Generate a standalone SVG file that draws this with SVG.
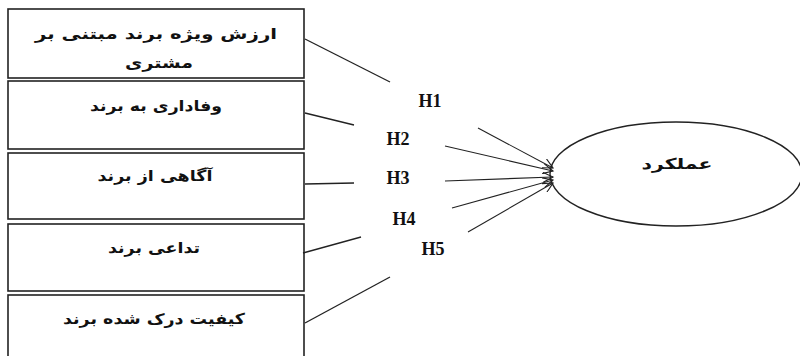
<svg xmlns="http://www.w3.org/2000/svg" width="800" height="356" viewBox="0 0 800 356">
<style>
.box{fill:#fff;stroke:#222;stroke-width:1.6}
.fa{font-family:"DejaVu Sans",sans-serif;font-size:15px;font-weight:bold;fill:#111;text-anchor:middle;direction:rtl}
.h{font-family:"Liberation Serif",serif;font-size:18px;font-weight:bold;fill:#111;text-anchor:middle}
.ln{stroke:#222;stroke-width:1.3;fill:none}
.ar{stroke:#222;stroke-width:1.1;fill:none;marker-end:url(#ah)}
</style>
<defs>
<marker id="ah" markerWidth="12" markerHeight="10" refX="10" refY="5" orient="auto" markerUnits="userSpaceOnUse">
<path d="M0,0 L10,5 L0,10" fill="none" stroke="#222" stroke-width="1.1"/>
</marker>
</defs>
<rect width="800" height="356" fill="#fff"/>
<g id="n1"><rect class="box" x="8" y="9" width="296" height="69"/>
<text class="fa" x="156" y="39" textLength="242" lengthAdjust="spacingAndGlyphs">ارزش ویژه برند مبتنی بر</text>
<text class="fa" x="159" y="68" textLength="68" lengthAdjust="spacingAndGlyphs">مشتری</text></g>
<g id="n2"><rect class="box" x="8" y="81" width="296" height="68"/>
<text class="fa" x="156" y="111" textLength="132" lengthAdjust="spacingAndGlyphs">وفاداری به برند</text></g>
<g id="n3"><rect class="box" x="8" y="153" width="296" height="66"/>
<text class="fa" x="155" y="181" textLength="115" lengthAdjust="spacingAndGlyphs">آگاهی از برند</text></g>
<g id="n4"><rect class="box" x="8" y="224" width="296" height="67"/>
<text class="fa" x="154" y="253" textLength="92" lengthAdjust="spacingAndGlyphs">تداعی برند</text></g>
<g id="n5"><rect class="box" x="8" y="295" width="296" height="70"/>
<text class="fa" x="154" y="324" textLength="182" lengthAdjust="spacingAndGlyphs">کیفیت درک شده برند</text></g>
<g id="n6"><ellipse cx="676" cy="174" rx="126" ry="52" fill="#fff" stroke="#222" stroke-width="1.4"/>
<text class="fa" x="677" y="169" textLength="71" lengthAdjust="spacingAndGlyphs">عملکرد</text></g>
<g id="connectors">
<line class="ln" x1="305" y1="39" x2="390" y2="82"/>
<line class="ln" x1="305" y1="113" x2="354" y2="125"/>
<line class="ln" x1="305" y1="184" x2="354" y2="183"/>
<line class="ln" x1="303" y1="253" x2="361" y2="237"/>
<line class="ln" x1="305" y1="323" x2="390" y2="277"/>
<line class="ar" x1="478" y1="128" x2="553" y2="168"/>
<line class="ar" x1="445" y1="146" x2="553" y2="171"/>
<line class="ar" x1="445" y1="181" x2="553" y2="177"/>
<line class="ar" x1="452" y1="208" x2="553" y2="180"/>
<line class="ar" x1="468" y1="232" x2="553" y2="183"/>
</g>
<g id="labels">
<text class="h" x="430" y="107">H1</text>
<text class="h" x="398" y="145">H2</text>
<text class="h" x="398" y="184">H3</text>
<text class="h" x="404" y="225">H4</text>
<text class="h" x="433" y="255">H5</text>
</g>
</svg>
